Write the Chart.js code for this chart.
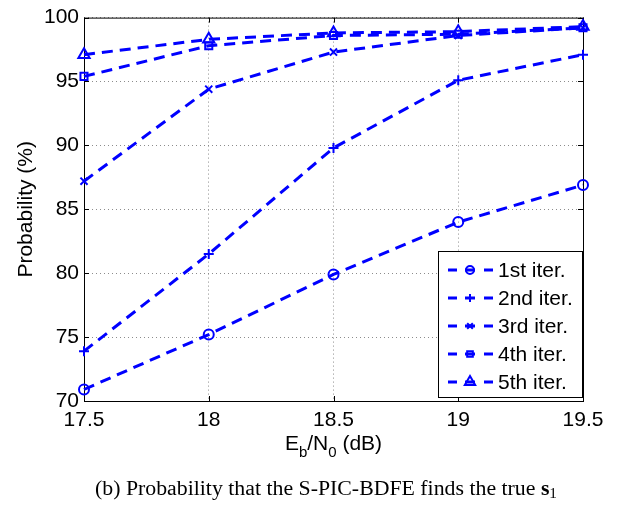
<!DOCTYPE html>
<html>
<head>
<meta charset="utf-8">
<script src="https://cdn.jsdelivr.net/npm/chart.js@4.4.0/dist/chart.umd.min.js"></script>
<style>
  html, body { margin: 0; padding: 0; background: #fff; }
  #wrap { width: 619px; height: 505px; }
</style>
</head>
<body>
<div id="wrap"><canvas id="chart" width="619" height="505"></canvas></div>
<script>
// Eb/N0 (dB) on the x axis
const snr = [17.5, 18, 18.5, 19, 19.5];

// probability (%) per iteration
const iter1 = [70.9, 75.2, 79.9, 84.0, 86.9];
const iter2 = [73.9, 81.5, 89.8, 95.1, 97.1];
const iter3 = [87.2, 94.4, 97.3, 98.6, 99.2];
const iter4 = [95.4, 97.8, 98.6, 98.7, 99.2];
const iter5 = [97.1, 98.3, 98.8, 98.9, 99.3];

const seriesLabels = ['1st iter.', '2nd iter.', '3rd iter.', '4th iter.', '5th iter.'];
const markers = ['circle', 'cross', 'crossRot', 'rect', 'triangle'];

const xTicks = [17.5, 18, 18.5, 19, 19.5];
const yTicks = [70, 75, 80, 85, 90, 95, 100];

const BLUE = '#0000ff';
const SANS = "'Liberation Sans', Arial, sans-serif";
const SERIF = "'Liberation Serif', 'Times New Roman', serif";

const allSeries = [iter1, iter2, iter3, iter4, iter5];

const datasets = allSeries.map((vals, i) => ({
    label: seriesLabels[i],
    data: snr.map((x, j) => ({ x: x, y: vals[j] })),
    borderColor: BLUE,
    backgroundColor: BLUE,
    borderWidth: 3,
    borderDash: [11, 7],
    pointStyle: markers[i],
    pointRadius: markers[i] === 'triangle' ? 6.5 : 5,
    pointBorderWidth: 2,
    pointBackgroundColor: 'rgba(0,0,0,0)',
    pointBorderColor: BLUE,
    tension: 0,
    clip: false,
}));

// draws runs of text [text, font, dy] centred on cx, squeezed/stretched to width w if given
function drawRuns(ctx, runs, cx, base, w) {
    let total = 0;
    runs.forEach(r => { ctx.font = r[1]; total += ctx.measureText(r[0]).width; });
    const sx = w ? w / total : 1;
    ctx.save();
    ctx.translate(cx - total * sx / 2, base);
    ctx.scale(sx, 1);
    ctx.textAlign = 'left';
    ctx.textBaseline = 'alphabetic';
    let x = 0;
    runs.forEach(r => {
        ctx.font = r[1];
        ctx.fillText(r[0], x, r[2]);
        x += ctx.measureText(r[0]).width;
    });
    ctx.restore();
}

// black box + inward ticks, titles, caption and legend
const decorations = {
    id: 'decorations',
    beforeDatasetsDraw(chart) {
        const { ctx, chartArea: a, scales: { x, y } } = chart;
        ctx.save();
        ctx.strokeStyle = '#000';
        ctx.lineWidth = 1;
        ctx.setLineDash([]);
        ctx.strokeRect(a.left + 0.5, a.top + 0.5, a.right - a.left, a.bottom - a.top);
        ctx.beginPath();
        xTicks.forEach(v => {
            const px = Math.round(x.getPixelForValue(v)) + 0.5;
            ctx.moveTo(px, a.bottom); ctx.lineTo(px, a.bottom - 5);
            ctx.moveTo(px, a.top); ctx.lineTo(px, a.top + 5);
        });
        yTicks.forEach(v => {
            const py = Math.round(y.getPixelForValue(v)) + 0.5;
            ctx.moveTo(a.left, py); ctx.lineTo(a.left + 5, py);
            ctx.moveTo(a.right, py); ctx.lineTo(a.right - 5, py);
        });
        ctx.stroke();
        ctx.restore();
    },
    afterDraw(chart) {
        const { ctx, chartArea: a } = chart;
        ctx.save();
        ctx.fillStyle = '#000';

        // y title
        ctx.save();
        ctx.translate(26, (a.top + a.bottom) / 2);
        ctx.rotate(-Math.PI / 2);
        ctx.font = '21px ' + SANS;
        ctx.textAlign = 'center';
        ctx.textBaseline = 'middle';
        ctx.fillText('Probability (%)', 0, 0);
        ctx.restore();

        // x title: E_b/N_0 (dB)
        const big = '21px ' + SANS, small = '15px ' + SANS;
        drawRuns(ctx, [['E', big, 0], ['b', small, 7], ['/N', big, 0], ['0', small, 7], [' (dB)', big, 0]],
            (a.left + a.right) / 2, 450);

        // caption
        const serif = '20px ' + SERIF;
        drawRuns(ctx, [['(b) Probability that the S-PIC-BDFE finds the true ', serif, 0],
            ['s', 'bold 20px ' + SERIF, 0], ['1', '14px ' + SERIF, 3]], 326, 495, 462);

        // legend box
        const lx = 438.5, ly = 251.5, lw = 144, lh = 146;
        ctx.fillStyle = '#fff';
        ctx.fillRect(lx, ly, lw, lh);
        ctx.strokeStyle = '#000';
        ctx.lineWidth = 1;
        ctx.strokeRect(lx, ly, lw, lh);
        chart.data.datasets.forEach((ds, i) => {
            const cy = 270 + i * 28;
            ctx.strokeStyle = BLUE;
            ctx.lineWidth = 3;
            ctx.setLineDash([]);
            ctx.beginPath();
            ctx.moveTo(448, cy); ctx.lineTo(457, cy);
            ctx.moveTo(465, cy); ctx.lineTo(475, cy);
            ctx.moveTo(484, cy); ctx.lineTo(493, cy);
            ctx.stroke();
            ctx.lineWidth = 2;
            ctx.fillStyle = 'rgba(0,0,0,0)';
            Chart.helpers.drawPoint(ctx, {
                pointStyle: ds.pointStyle,
                radius: ds.pointStyle === 'triangle' ? 6 : 4,
                borderWidth: 2,
                rotation: 0
            }, 470, cy);
            ctx.fillStyle = '#000';
            ctx.font = '21px ' + SANS;
            ctx.textAlign = 'left';
            ctx.textBaseline = 'middle';
            ctx.fillText(ds.label, 498, cy + 1);
        });
        ctx.restore();
    }
};

new Chart(document.getElementById('chart'), {
    type: 'line',
    data: { datasets: datasets },
    plugins: [decorations],
    options: {
        responsive: false,
        animation: false,
        events: [],
        layout: { padding: { left: 0, top: 16, right: 36, bottom: 0 } },
        plugins: {
            legend: { display: false },
            tooltip: { enabled: false },
            title: { display: false },
        },
        scales: {
            x: {
                type: 'linear',
                min: 17.5,
                max: 19.5,
                afterBuildTicks: s => { s.ticks = xTicks.map(v => ({ value: v })); },
                afterFit: s => { s.height = 104; },
                grid: { color: '#8c8c8c', lineWidth: 1, drawTicks: false },
                border: { display: false, dash: [1, 3] },
                ticks: {
                    color: '#000',
                    font: { family: SANS, size: 21 },
                    padding: 7,
                    maxRotation: 0,
                    callback: v => String(v),
                },
            },
            y: {
                type: 'linear',
                min: 70,
                max: 100,
                afterBuildTicks: s => { s.ticks = yTicks.map(v => ({ value: v })); },
                afterFit: s => { s.width = 84; },
                grid: { color: '#8c8c8c', lineWidth: 1, drawTicks: false },
                border: { display: false, dash: [1, 3] },
                ticks: {
                    color: '#000',
                    font: { family: SANS, size: 21 },
                    padding: 5,
                    callback: v => String(v),
                },
            },
        },
    },
});
</script>
</body>
</html>
